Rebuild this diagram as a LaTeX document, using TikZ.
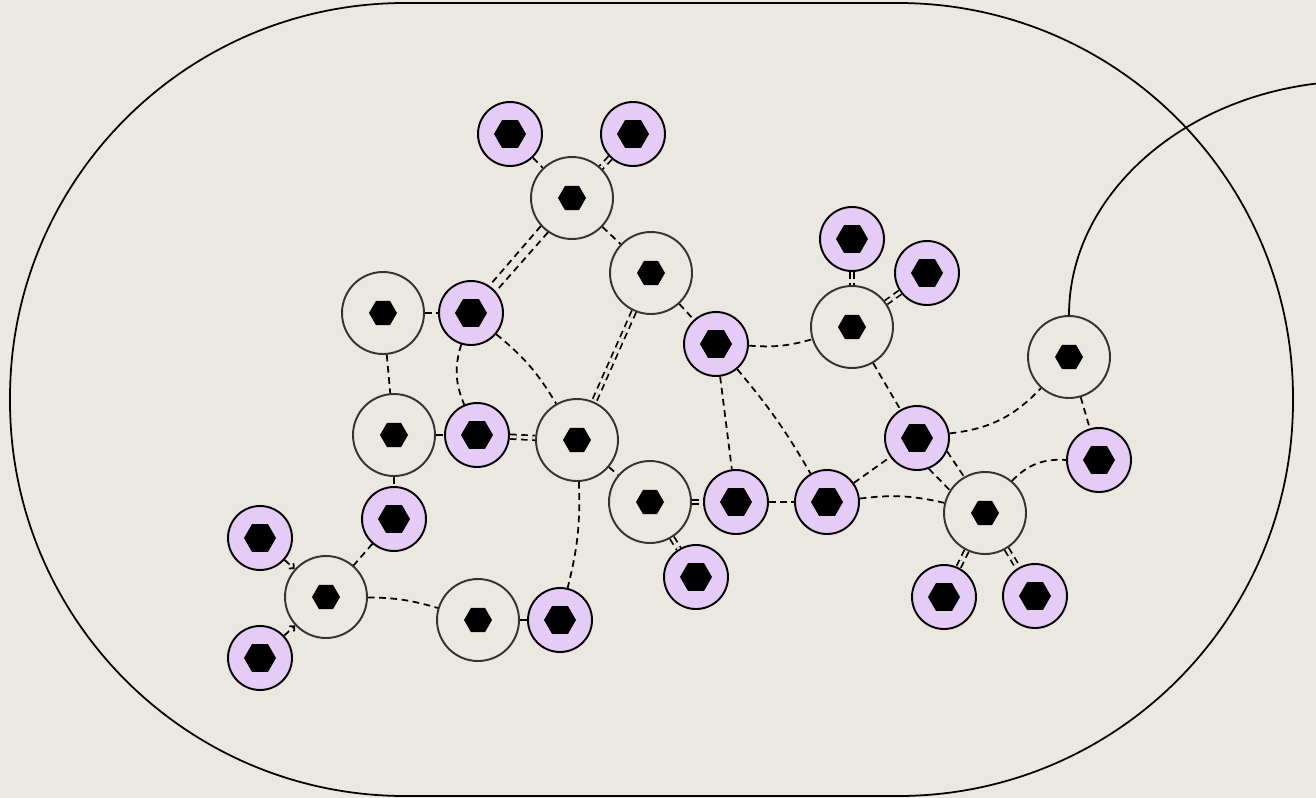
\documentclass[tikz,border=0pt]{standalone}
\usetikzlibrary{arrows.meta}
\definecolor{paper}{RGB}{234,232,224}
\definecolor{lilac}{RGB}{229,204,247}
\definecolor{ringgray}{RGB}{51,51,51}

\begin{document}
\begin{tikzpicture}[
        x=0.02cm, y=-0.02cm,
        hub/.style={circle, draw=ringgray, line width=1.1pt, fill=paper, minimum size=1.64cm, inner sep=0pt,
            path picture={\fill[black, shift={(path picture bounding box.center)}] (0:0.28cm) -- (60:0.28cm) -- (120:0.28cm) -- (180:0.28cm) -- (240:0.28cm) -- (300:0.28cm) -- cycle;}},
        leaf/.style={circle, draw=black, line width=1.1pt, fill=lilac, minimum size=1.28cm, inner sep=0pt,
            path picture={\fill[black, shift={(path picture bounding box.center)}] (0:0.32cm) -- (60:0.32cm) -- (120:0.32cm) -- (180:0.32cm) -- (240:0.32cm) -- (300:0.32cm) -- cycle;}},
        link/.style={line width=1pt, dash pattern=on 3.8pt off 2.6pt},
        twin/.style={link, double=paper, double distance=1.6pt},
        barb/.style={-{Straight Barb[length=2pt, width=4pt]}}
    ]
        % Canvas and outline
        \fill[paper] (0,0) rectangle (1316,798);
        \useasboundingbox (0,0) rectangle (1316,798);
        \draw[line width=1pt, rounded corners=7.9cm] (10,3) rectangle (1293,796);

        % Hub nodes
        \node[hub] (g1) at (572,198) {};
        \node[hub] (g2) at (651,273) {};
        \node[hub] (g3) at (383,313) {};
        \node[hub] (g4) at (394,435) {};
        \node[hub] (g5) at (577,440) {};
        \node[hub] (g6) at (650,502) {};
        \node[hub] (g7) at (326,597) {};
        \node[hub] (g8) at (478,620) {};
        \node[hub] (g9) at (852,327) {};
        \node[hub] (g10) at (1069,357) {};
        \node[hub] (g11) at (985,513) {};

        % Leaf nodes
        \node[leaf] (p1) at (510,134) {};
        \node[leaf] (p2) at (633,134) {};
        \node[leaf] (p3) at (471,313) {};
        \node[leaf] (p4) at (477,435) {};
        \node[leaf] (p5) at (394,519) {};
        \node[leaf] (p6) at (260,538) {};
        \node[leaf] (p7) at (260,658) {};
        \node[leaf] (p8) at (560,620) {};
        \node[leaf] (p9) at (716,344) {};
        \node[leaf] (p10) at (852,239) {};
        \node[leaf] (p11) at (927,273) {};
        \node[leaf] (p12) at (736,502) {};
        \node[leaf] (p13) at (827,502) {};
        \node[leaf] (p14) at (696,577) {};
        \node[leaf] (p15) at (917,438) {};
        \node[leaf] (p16) at (1099,460) {};
        \node[leaf] (p17) at (944,597) {};
        \node[leaf] (p18) at (1035,596) {};

        % Outgoing arc
        \draw[line width=1pt] (g10.north) .. controls +(0,-128) and (1199,81) .. (1359,81);

        % Top links
        \draw[link] (p1) -- (g1);
        \draw[twin] (p2) -- (g1);
        \draw[link] (g1.235) -- (p3.41);
        \draw[link] (g1.222) -- (p3.56);
        \draw[link] (g1) -- (g2);
        \draw[link] (g2) -- (p9);
        \draw[twin] (g2) -- (g5);

        % Left links
        \draw[link] (g3) -- (p3);
        \draw[link] (g3) -- (g4);
        \draw[link] (p3) to[bend right=20] (p4);
        \draw[link] (p3) to[bend left=10] (g5);
        \draw[link] (g4) -- (p4);
        \draw[twin] (p4) -- (g5);
        \draw[link] (g4) -- (p5);
        \draw[link] (g5) -- (g6);
        \draw[link] (g5) to[bend left=8] (p8);
        \draw[twin] (g6) -- (p12);
        \draw[twin] (g6) -- (p14);

        % Bottom left links
        \draw[link, barb] (p6) -- (g7);
        \draw[link, barb] (p7) -- (g7);
        \draw[link] (p5) -- (g7);
        \draw[link] (g7) to[bend left=8] (g8);
        \draw[link] (g8) -- (p8);

        % Right links
        \draw[link] (p9) to[bend right=10] (g9);
        \draw[link] (p9) -- (p12);
        \draw[link] (p9) to[bend left=5] (p13);
        \draw[twin] (p10) -- (g9);
        \draw[twin] (p11) -- (g9);
        \draw[link] (g9) -- (p15);
        \draw[link] (p12) -- (p13);
        \draw[link] (p13) -- (p15);
        \draw[link] (p13) to[bend left=10] (g11);
        \draw[link] (p15) to[bend right=20] (g10);
        \draw[link] (p15.336) -- (g11.120);
        \draw[link] (p15.291) -- (g11.147);
        \draw[link] (g10) -- (p16);
        \draw[link] (g11) to[bend left=25] (p16);
        \draw[twin] (g11) -- (p17);
        \draw[twin] (g11) -- (p18);
    \end{tikzpicture}
\end{document}
